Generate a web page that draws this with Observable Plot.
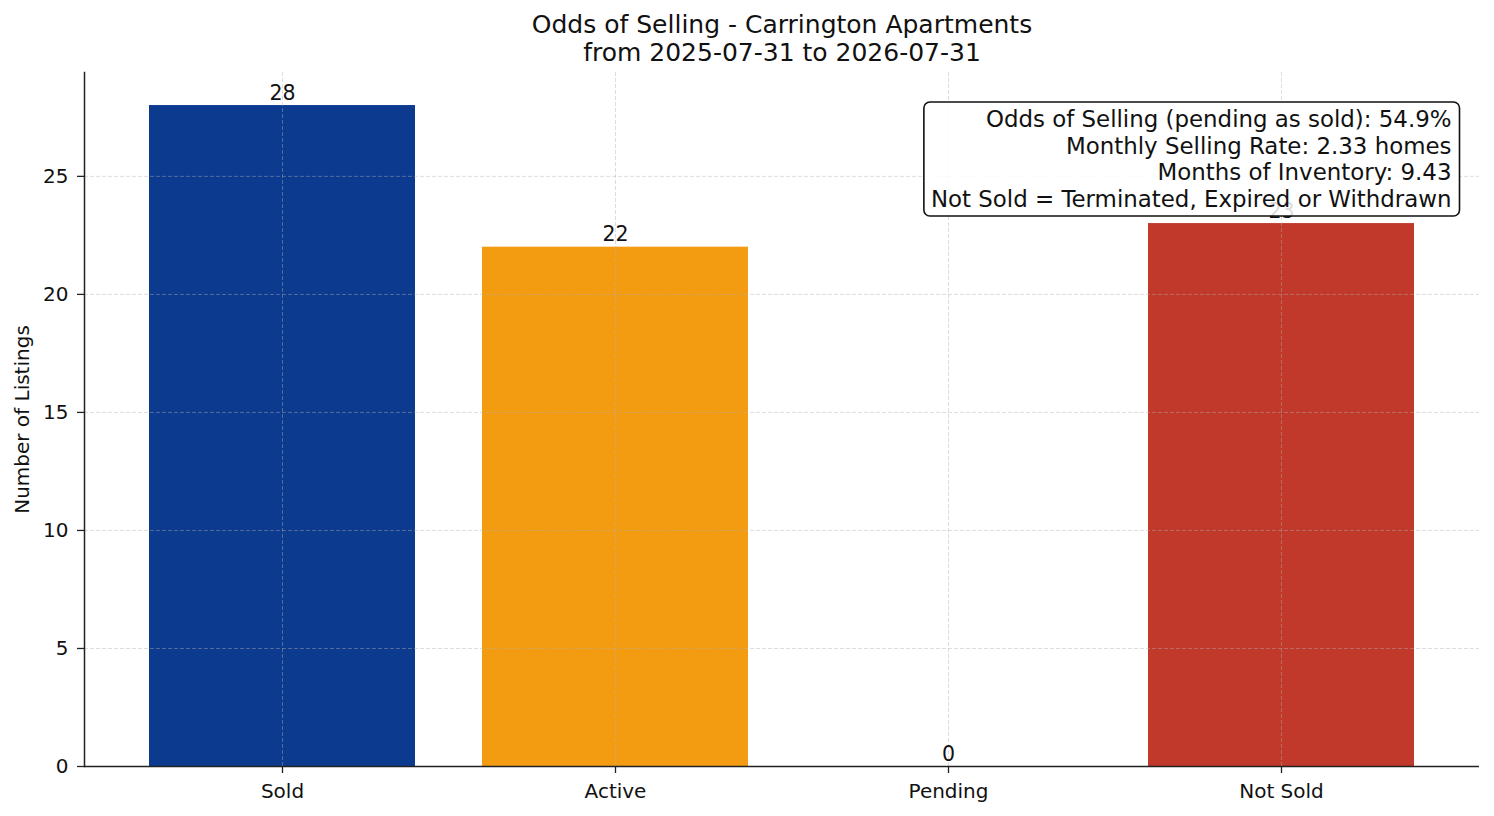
<!DOCTYPE html>
<html>
<head>
<meta charset="utf-8">
<script src="https://cdn.jsdelivr.net/npm/d3@7"></script>
<script src="https://cdn.jsdelivr.net/npm/@observablehq/plot@0.6"></script>
<style>
  html, body { margin: 0; padding: 0; background: white; }
  #chart svg { display: block; }
</style>
</head>
<body>
<div id="chart"></div>
<script>
const categories = ["Sold", "Active", "Pending", "Not Sold"];
const counts = [28, 22, 0, 23];
const barColors = ["#0b3a8e", "#f39c12", "#7f8c8d", "#c0392b"];
const yTicks = [0, 5, 10, 15, 20, 25];
const titleLines = ["Odds of Selling - Carrington Apartments", "from 2025-07-31 to 2026-07-31"];
const statLines = [
  "Odds of Selling (pending as sold): 54.9%",
  "Monthly Selling Rate: 2.33 homes",
  "Months of Inventory: 9.43",
  "Not Sold = Terminated, Expired or Withdrawn"
];
const yLabel = "Number of Listings";

const data = categories.map((c, i) => ({category: c, count: counts[i]}));

const gridStyle = {stroke: "#b0b0b0", strokeOpacity: 0.55, strokeWidth: 0.8, strokeDasharray: "4,2"};

const chart = Plot.plot({
  width: 1494,
  height: 816,
  marginLeft: 84,
  marginRight: 15,
  marginTop: 72,
  marginBottom: 50,
  style: {fontFamily: "DejaVu Sans", fontSize: "20px", color: "#111", background: "white", overflow: "visible"},
  x: {domain: categories, paddingInner: 0.2, paddingOuter: 0.19, label: null},
  y: {domain: [0, 29.4], label: null},
  color: {domain: categories, range: barColors},
  marks: [
    Plot.barY(data, {x: "category", y: "count", fill: "category"}),
    Plot.gridY(yTicks, gridStyle),
    Plot.gridX(categories, gridStyle),
    Plot.axisY(yTicks, {tickSize: 7, tickPadding: 9, fontSize: 20, stroke: "#222", strokeWidth: 1.3,
      label: yLabel, labelAnchor: "center", labelArrow: "none", labelOffset: 70}),
    Plot.axisX({tickSize: 7, tickPadding: 10, fontSize: 20, stroke: "#222", strokeWidth: 1.3, label: null}),
    Plot.ruleY([0], {stroke: "#222", strokeWidth: 1.5}),
    Plot.frame({anchor: "left", stroke: "#222", strokeWidth: 1.5}),
    Plot.text(data, {x: "category", y: "count", text: d => String(d.count), lineAnchor: "bottom", dy: -6, fontSize: 20.5, fill: "#111"}),
    Plot.text([titleLines.join("\n")], {text: d => d, frameAnchor: "top", lineAnchor: "middle", dy: -34, fontSize: 25, lineHeight: 1.12, fill: "#111"}),
    Plot.text([statLines.join("\n")], {text: d => d, frameAnchor: "top-right", textAnchor: "end", lineAnchor: "middle", dx: -28, dy: 86, fontSize: 22.9, lineHeight: 1.165, fill: "#111", className: "statbox"})
  ]
});

document.getElementById("chart").appendChild(chart);

// rounded, slightly translucent annotation box behind the stats text
const g = chart.querySelector("g.statbox") || chart.querySelector(".statbox");
if (g) {
  const bb = g.getBBox();
  const rect = document.createElementNS("http://www.w3.org/2000/svg", "rect");
  rect.setAttribute("x", bb.x - 7);
  rect.setAttribute("y", bb.y - 4);
  rect.setAttribute("width", bb.width + 15);
  rect.setAttribute("height", bb.height + 8);
  rect.setAttribute("rx", 6);
  rect.setAttribute("fill", "white");
  rect.setAttribute("fill-opacity", 0.85);
  rect.setAttribute("stroke", "#111");
  rect.setAttribute("stroke-width", 1.6);
  const tr = g.getAttribute("transform");
  if (tr) rect.setAttribute("transform", tr);
  g.parentNode.insertBefore(rect, g);
}
</script>
</body>
</html>
